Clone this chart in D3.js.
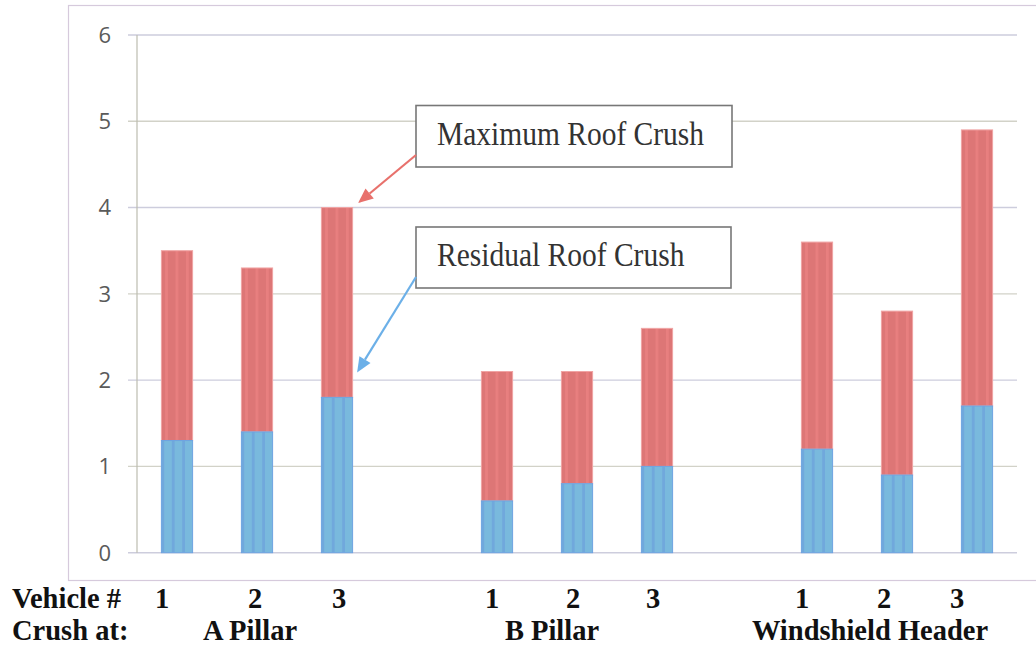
<!DOCTYPE html>
<html>
<head>
<meta charset="utf-8">
<script src="https://cdn.jsdelivr.net/npm/d3@7"></script>
<style>
  html, body { margin: 0; padding: 0; background: #fff; }
  svg { display: block; }
</style>
</head>
<body>
<svg id="chart" width="1036" height="649"></svg>
<script>
// ---- data ----
const slots = ["A1", "A2", "A3", "gap1", "B1", "B2", "B3", "gap2", "W1", "W2", "W3"];
const residualCrush = [1.3, 1.4, 1.8, null, 0.6, 0.8, 1.0, null, 1.2, 0.9, 1.7];
const maximumCrush  = [3.5, 3.3, 4.0, null, 2.1, 2.1, 2.6, null, 3.6, 2.8, 4.9];
const vehicleLabels = ["1", "2", "3", "", "1", "2", "3", "", "1", "2", "3"];
const groupLabels = ["A Pillar", "B Pillar", "Windshield Header"];
const yTicks = [0, 1, 2, 3, 4, 5, 6];
const annotationTexts = ["Maximum Roof Crush", "Residual Roof Crush"];

// ---- layout ----
const svg = d3.select("#chart");
const plot = { left: 137, right: 1017, top: 35, bottom: 552.7 };
const x = d3.scaleBand().domain(slots).range([plot.left, plot.right]).paddingInner(0.61).paddingOuter(0.305);
const y = d3.scaleLinear().domain([0, 6]).range([plot.bottom, plot.top]);

// patterns
const defs = svg.append("defs");
function stripePattern(id, base, stripe, stripeX, stripeW) {
  const p = defs.append("pattern").attr("id", id)
    .attr("patternUnits", "objectBoundingBox").attr("patternContentUnits", "objectBoundingBox")
    .attr("width", 1 / 3).attr("height", 1);
  p.append("rect").attr("x", 0).attr("y", 0).attr("width", 1 / 3).attr("height", 1).attr("fill", base);
  p.append("rect").attr("x", stripeX).attr("y", 0).attr("width", stripeW).attr("height", 1).attr("fill", stripe);
}
stripePattern("redStripe", "#dd7676", "#e87f7f", 0.12, 0.09);
stripePattern("blueStripe", "#79b9dd", "#70a8dc", 0.0, 0.09);

// outer frame
svg.append("rect").attr("x", 68.5).attr("y", 5.5).attr("width", 980).attr("height", 575)
  .attr("fill", "none").attr("stroke", "#d6cadc").attr("stroke-width", 1.2);

// gridlines
svg.append("g").selectAll("line").data(yTicks).join("line")
  .attr("x1", plot.left - 9).attr("x2", plot.right)
  .attr("y1", d => y(d)).attr("y2", d => y(d))
  .attr("stroke", (d, i) => i % 2 ? "#d2d2c8" : "#cdcddd").attr("stroke-width", 1.4);

// y axis line
svg.append("line").attr("x1", plot.left).attr("x2", plot.left)
  .attr("y1", y(6)).attr("y2", y(0)).attr("stroke", "#bdbdb0").attr("stroke-width", 1.2);

// y tick labels
svg.append("g").selectAll("text").data(yTicks).join("text")
  .attr("x", 111).attr("y", d => y(d)).attr("dy", "0.36em")
  .attr("text-anchor", "end")
  .attr("font-family", "'Open Sans', 'Liberation Sans', sans-serif")
  .attr("font-size", 22).attr("fill", "#5a5a5a")
  .text(d => d);

// bars
const barData = slots.map((s, i) => ({ slot: s, res: residualCrush[i], max: maximumCrush[i] }))
  .filter(d => d.res !== null);
const bars = svg.append("g");
bars.selectAll("rect.max").data(barData).join("rect").attr("class", "max")
  .attr("x", d => x(d.slot)).attr("width", x.bandwidth())
  .attr("y", d => y(d.max)).attr("height", d => y(d.res) - y(d.max))
  .attr("fill", "url(#redStripe)").attr("stroke", "#f0a4a4").attr("stroke-width", 1);
bars.selectAll("rect.res").data(barData).join("rect").attr("class", "res")
  .attr("x", d => x(d.slot)).attr("width", x.bandwidth())
  .attr("y", d => y(d.res)).attr("height", d => y(0) - y(d.res))
  .attr("fill", "url(#blueStripe)").attr("stroke", "#6ea4e2").attr("stroke-width", 1);

// annotations
const boxes = [
  { x: 416, y: 105.5, w: 316, h: 61.5, text: annotationTexts[0] },
  { x: 416, y: 227, w: 315, h: 61, text: annotationTexts[1] }
];
const ag = svg.append("g");
boxes.forEach(b => {
  ag.append("rect").attr("x", b.x).attr("y", b.y).attr("width", b.w).attr("height", b.h)
    .attr("fill", "#fff").attr("stroke", "#777").attr("stroke-width", 1.6);
  ag.append("text")
    .attr("transform", `translate(${b.x + 21},${b.y + 39}) scale(1,1.12)`)
    .attr("font-family", "'Liberation Serif', 'Times New Roman', serif")
    .attr("font-size", 29.5).attr("fill", "#333")
    .text(b.text);
});

// arrows
const a3 = x("A3") + x.bandwidth();
function arrow(x1, y1, x2, y2, color) {
  const ang = Math.atan2(y2 - y1, x2 - x1);
  const len = 15, half = 6.5;
  const bx = x2 - len * Math.cos(ang), by = y2 - len * Math.sin(ang);
  ag.append("line").attr("x1", x1).attr("y1", y1).attr("x2", bx).attr("y2", by)
    .attr("stroke", color).attr("stroke-width", 2.2);
  ag.append("path")
    .attr("d", `M${x2},${y2} L${bx + half * Math.sin(ang)},${by - half * Math.cos(ang)} L${bx - half * Math.sin(ang)},${by + half * Math.cos(ang)} Z`)
    .attr("fill", color);
}
arrow(416, 155, a3 + 5.5, y(maximumCrush[2]) - 4.5, "#e8716c");
arrow(416, 277, a3 + 4.5, y(residualCrush[2]) - 25, "#6cb0e8");

// bottom labels
const serif = "'Liberation Serif', 'Times New Roman', serif";
const numX = [162, 255, 339, null, 492, 573, 653, null, 802, 884, 957];
const groupX = [250, 552, 870];
const bl = svg.append("g").attr("font-family", serif).attr("font-weight", "bold")
  .attr("font-size", 28.5).attr("fill", "#111");
function lbl(xx, yy, t, anchor) {
  bl.append("text").attr("x", xx).attr("y", yy).attr("text-anchor", anchor).text(t);
}
lbl(12, 608, "Vehicle #", "start");
lbl(12, 640, "Crush at:", "start");
vehicleLabels.forEach((v, i) => { if (v) lbl(numX[i], 608, v, "middle"); });
groupLabels.forEach((g, i) => lbl(groupX[i], 640, g, "middle"));
</script>
</body>
</html>
